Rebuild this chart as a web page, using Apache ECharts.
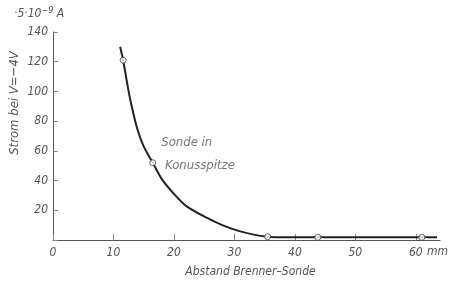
<!DOCTYPE html>
<html>
<head>
<meta charset="utf-8">
<script src="https://cdn.jsdelivr.net/npm/echarts@6/dist/echarts.min.js"></script>
<style>
  html, body { margin: 0; padding: 0; background: #fff; }
  #chart { width: 452px; height: 284px; }
</style>
</head>
<body>
<div id="chart"></div>
<script>
// Abstand (mm) und Strom (x 5·10^-9 A) entlang der Kurve
const curveX = [11.1, 11.6, 12.2, 12.7, 13.3, 14.0, 15.0, 16.5, 18.0, 19.8, 22.0, 25.4, 28.0, 30.4, 33.0, 35.5, 38.0, 43.8, 61.0, 63.5]
const curveY = [130, 121, 107, 96, 85, 74, 63, 52, 41, 32, 23, 15.0, 10.0, 6.5, 3.8, 2.2, 1.8, 1.8, 1.8, 1.8]
// Messpunkte (offene Kreise)
const pointX = [11.6, 16.5, 35.5, 43.8, 61.0]
const pointY = [121, 52, 2.2, 1.8, 1.8]
const xTicks = [0, 10, 20, 30, 40, 50, 60]
const yTicks = [0, 20, 40, 60, 80, 100, 120, 140]

const font = 'DejaVu Sans Condensed, DejaVu Sans'
const cssFont = 'italic 12px "DejaVu Sans Condensed", "DejaVu Sans"'
const grey = '#555'

const option = {
  animation: false,
  backgroundColor: '#fff',
  grid: { left: 53, right: 12, top: 32, bottom: 44, outerBoundsMode: 'none', containLabel: false },
  xAxis: {
    type: 'value',
    min: 0,
    max: 64,
    interval: 10,
    splitLine: { show: false },
    axisLine: { lineStyle: { color: grey, width: 1 } },
    axisTick: { inside: true, length: 6, lineStyle: { color: '#888' } },
    axisLabel: {
      color: grey, fontFamily: font, fontStyle: 'italic', fontSize: 12, margin: 7,
      showMaxLabel: false,
      formatter: function (v) { return xTicks.indexOf(v) >= 0 ? String(v) : '' }
    },
    name: 'Abstand Brenner–Sonde',
    nameLocation: 'middle',
    nameGap: 26,
    nameTextStyle: { color: grey, fontFamily: font, fontStyle: 'italic', fontSize: 12, padding: [0, 0, 0, 8] }
  },
  yAxis: {
    type: 'value',
    min: 0,
    max: 140,
    interval: 20,
    splitLine: { show: false },
    axisLine: { show: true, lineStyle: { color: grey, width: 1 } },
    axisTick: { show: true, inside: true, length: 5, lineStyle: { color: '#888' } },
    axisLabel: {
      color: grey, fontFamily: font, fontStyle: 'italic', fontSize: 12, margin: 5,
      formatter: function (v) { return (yTicks.indexOf(v) >= 0 && v !== 0) ? String(v) : '' }
    }
  },
  graphic: [
    {
      type: 'text', left: 14, top: 6,
      style: {
        text: '·5·10{s|−9} A',
        rich: { s: { fontSize: 9, verticalAlign: 'top', padding: [0, 0, 6, 0], fill: grey, fontFamily: font, fontStyle: 'italic' } },
        fill: grey, font: cssFont
      }
    },
    {
      type: 'text', x: 15, y: 103, rotation: Math.PI / 2,
      style: { text: 'Strom bei V=−4V', fill: grey, font: 'italic 13px "DejaVu Sans Condensed", "DejaVu Sans"', align: 'center', verticalAlign: 'middle' }
    },
    {
      type: 'text', left: 427, top: 246,
      style: { text: 'mm', fill: grey, font: cssFont }
    }
  ],
  series: [
    {
      type: 'line',
      smooth: 0.3,
      showSymbol: false,
      data: curveX.map((x, i) => [x, curveY[i]]),
      lineStyle: { color: '#222', width: 2 }
    },
    {
      type: 'scatter',
      symbol: 'circle',
      symbolSize: 6,
      itemStyle: { color: '#fff', borderColor: '#444', borderWidth: 1 },
      data: pointX.map((x, i) => {
        const d = { value: [x, pointY[i]] }
        if (i === 1) {
          d.label = {
            show: true,
            position: [12, -28],
            formatter: 'Sonde in\n Konusspitze',
            color: grey, fontFamily: font, fontStyle: 'italic', fontSize: 13, lineHeight: 23
          }
        }
        return d
      }),
      z: 5
    }
  ]
}

const myChart = echarts.init(document.getElementById('chart'))
myChart.setOption(option)
</script>
</body>
</html>
